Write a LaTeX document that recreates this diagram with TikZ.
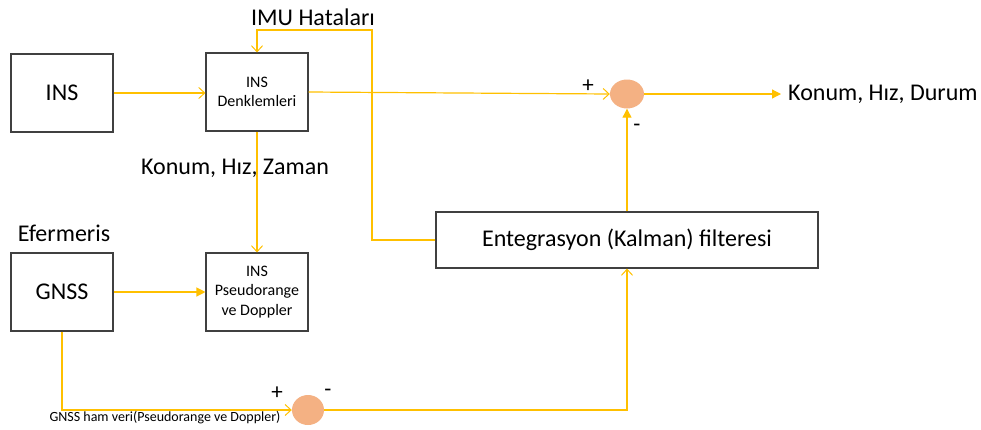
\documentclass[tikz,border=0pt]{standalone}
\usepackage{fontspec}
\setmainfont{Carlito}
\usetikzlibrary{arrows.meta,shapes.geometric}
\definecolor{flow}{HTML}{FFC000}
\definecolor{sumfill}{HTML}{F4B183}
\definecolor{boxline}{HTML}{404040}
\newcommand{\bigtext}{\fontsize{24}{28}\selectfont}
\newcommand{\midtext}{\fontsize{16}{19.5}\selectfont}
\newcommand{\smalltext}{\fontsize{14}{17}\selectfont}
\newcommand{\signtext}{\fontsize{23}{26}\selectfont}
\tikzset{
  block/.style={draw=boxline, line width=1.1pt, fill=white, inner sep=0pt, align=center},
  junction/.style={ellipse, fill=sumfill, draw=none, inner sep=0pt},
  wire/.style={draw=flow, line width=1.2pt},
  open/.style={wire, -{Straight Barb[length=6pt,width=11pt,line width=1pt]}},
  solid tip/.style={wire, -{Triangle[length=9pt,width=9pt]}},
  label text/.style={inner sep=0pt, text=black},
}
\begin{document}
\begin{tikzpicture}[x=1pt,y=-1pt]
\useasboundingbox (0,0) rectangle (981,429);

% blocks
\node[block, minimum width=102pt, minimum height=78pt, font=\bigtext] (ins) at (62,93) {INS};
\node[block, minimum width=102pt, minimum height=78pt, font=\midtext] (eq) at (257,92) {INS\\Denklemleri};
\node[block, minimum width=102pt, minimum height=78pt, font=\bigtext] (gnss) at (62,292) {GNSS};
\node[block, minimum width=102pt, minimum height=78pt, font=\midtext] (pr) at (257,292) {INS\\Pseudorange\\ve Doppler};
\node[block, minimum width=382pt, minimum height=56pt, font=\bigtext] (kf) at (627,240) {Entegrasyon (Kalman) filteresi};

% summing junctions
\node[junction, minimum width=34pt, minimum height=29pt] (s1) at (627,94) {};
\node[junction, minimum width=32pt, minimum height=30pt] (s2) at (308,410) {};

% free ends and bends
\coordinate (out) at (781,94);
\coordinate (fbA) at (372,240);
\coordinate (fbB) at (372,30);
\coordinate (fbC) at (257,30);
\coordinate (gA) at (62,410);

% connectors
\draw[open] (ins.east) -- (ins.east -| eq.west);
\draw[open] (eq.east) -- (s1.west);
\draw[solid tip] (s1.east) -- (out);
\draw[solid tip] (kf.north -| s1.south) -- (s1.south);
\draw[open] (kf.west) -- (fbA) -- (fbB) -- (fbC) -- (eq.north);
\draw[open] (eq.south) -- (pr.north);
\draw[solid tip] (gnss.east) -- (gnss.east -| pr.west);
\draw[open] (gnss.south) -- (gA) -- (s2.west);
\draw[open] (s2.east) -- (s2.east -| kf.south) -- (kf.south);

% labels
\node[label text, font=\bigtext] (imu) at (313,17) {IMU Hataları};
\node[label text, font=\bigtext, anchor=west] (res) at (788,94) {Konum, Hız, Durum};
\node[label text, font=\bigtext] (pvt) at (235,168) {Konum, Hız, Zaman};
\node[label text, font=\bigtext] (eph) at (64,233) {Efermeris};
\node[label text, font=\smalltext] (raw) at (165,418) {GNSS ham veri(Pseudorange ve Doppler)};
\node[label text, font=\signtext] (p1) at (588,86) {+};
\node[label text, font=\signtext] (m1) at (637,128) {-};
\node[label text, font=\signtext] (p2) at (277,393) {+};
\node[label text, font=\signtext] (m2) at (328,393) {-};
\end{tikzpicture}
\end{document}
